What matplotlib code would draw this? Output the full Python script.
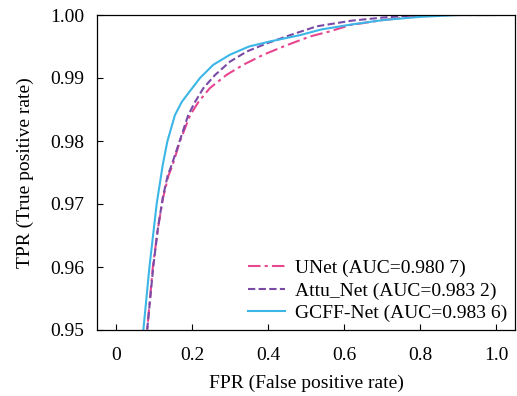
import matplotlib
matplotlib.use("Agg")
import matplotlib.pyplot as plt

plt.rcParams['font.family'] = ['Liberation Serif', 'DejaVu Serif']

# Data
unet_fpr = [0.060, 0.082, 0.097, 0.110, 0.124, 0.138, 0.149, 0.168, 0.195, 0.217, 0.247, 0.291, 0.335, 0.388, 0.449, 0.511, 0.563, 0.616, 0.703, 0.780, 0.835, 1.0]
unet_tpr = [0.940, 0.950, 0.960, 0.966, 0.971, 0.9745, 0.9762, 0.9799, 0.9841, 0.9862, 0.9884, 0.9905, 0.9921, 0.9937, 0.9952, 0.9966, 0.9974, 0.9984, 0.9992, 0.9997, 1.000, 1.000]

attu_fpr = [0.060, 0.082, 0.098, 0.110, 0.123, 0.136, 0.1465, 0.167, 0.190, 0.208, 0.230, 0.261, 0.300, 0.344, 0.397, 0.458, 0.528, 0.620, 0.703, 0.800, 1.0]
attu_tpr = [0.940, 0.950, 0.960, 0.966, 0.971, 0.9745, 0.9762, 0.9799, 0.9841, 0.9862, 0.9884, 0.9905, 0.9926, 0.9942, 0.9955, 0.9968, 0.9982, 0.9991, 0.9996, 1.000, 1.000]

gcff_fpr = [0.052, 0.072, 0.088, 0.107, 0.123, 0.135, 0.155, 0.173, 0.193, 0.221, 0.256, 0.300, 0.350, 0.405, 0.484, 0.540, 0.620, 0.703, 0.800, 0.900, 1.0]
gcff_tpr = [0.940, 0.950, 0.960, 0.970, 0.9762, 0.9799, 0.9841, 0.9862, 0.9878, 0.9900, 0.9921, 0.9937, 0.9950, 0.9958, 0.9968, 0.9977, 0.9985, 0.9992, 0.9997, 1.000, 1.000]

labels = ["UNet (AUC=0.980 7)", "Attu_Net (AUC=0.983 2)", "GCFF-Net (AUC=0.983 6)"]
xticks = [0, 0.2, 0.4, 0.6, 0.8, 1.0]
xticklabels = ["0", "0.2", "0.4", "0.6", "0.8", "1.0"]
yticks = [0.95, 0.96, 0.97, 0.98, 0.99, 1.00]
yticklabels = ["0.95", "0.96", "0.97", "0.98", "0.99", "1.00"]

fig = plt.figure(figsize=(5.17, 3.96), dpi=100)
ax = fig.add_axes([97/517, 1 - 330/396, (515-97)/517, (330-15)/396])

ax.plot(unet_fpr, unet_tpr, color='#e8468f', linestyle=(0, (6, 2, 1.5, 2)), lw=1.5, label=labels[0])
ax.plot(attu_fpr, attu_tpr, color='#7a4ba6', linestyle=(0, (3.5, 1.6)), lw=1.5, label=labels[1])
ax.plot(gcff_fpr, gcff_tpr, color='#3bb6e6', linestyle='-', lw=1.5, label=labels[2])

ax.set_xlim(-0.05, 1.05)
ax.set_ylim(0.95, 1.0)
ax.set_xticks(xticks)
ax.set_xticklabels(xticklabels)
ax.set_yticks(yticks)
ax.set_yticklabels(yticklabels)
ax.tick_params(direction='in', length=4, width=0.8, labelsize=14)
ax.tick_params(axis='x', pad=12)
ax.tick_params(axis='y', pad=9)
for s in ax.spines.values():
    s.set_linewidth(0.9)

ax.set_xlabel("FPR (False positive rate)", fontsize=14, labelpad=8)
ax.set_ylabel("TPR (True positive rate)", fontsize=14, labelpad=12)

leg = ax.legend(loc='lower right', frameon=False, fontsize=14, handlelength=1.9,
                handletextpad=0.5, labelspacing=0.25, borderaxespad=0.0)

fig.savefig("out.png", dpi=100)
